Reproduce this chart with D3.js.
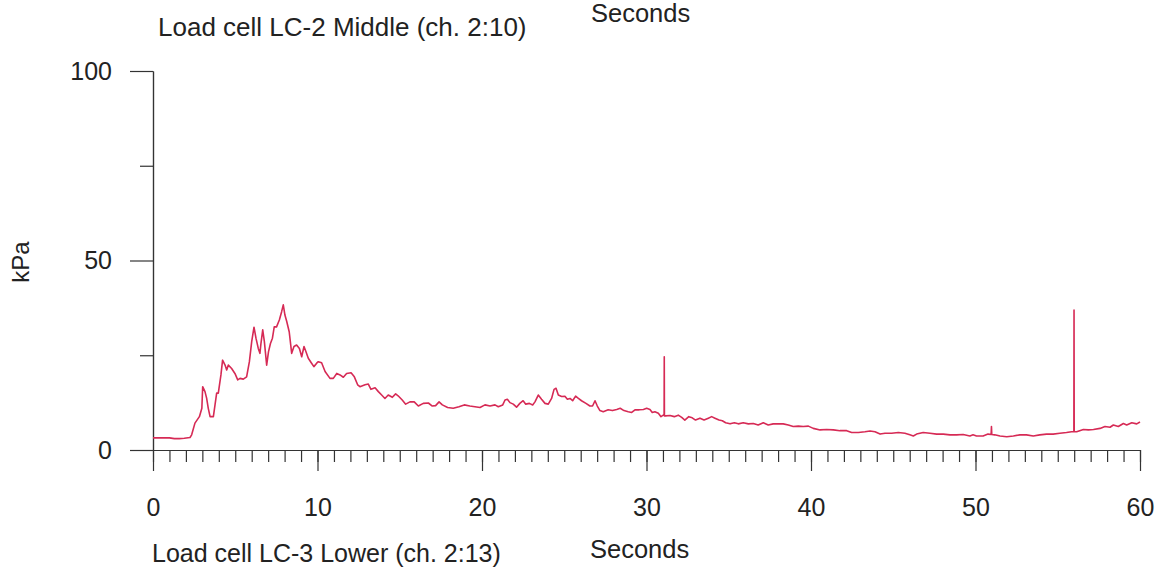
<!DOCTYPE html>
<html>
<head>
<meta charset="utf-8">
<script src="https://cdn.jsdelivr.net/npm/d3@7"></script>
<style>
  body { margin: 0; background: #fff; }
  svg text { font-family: "Liberation Sans", Arial, sans-serif; fill: #222; }
</style>
</head>
<body>
<svg id="chart" width="1165" height="572"></svg>
<script>
"use strict";

// time (s) and pressure (kPa)
const seconds = [
  0, 0.5, 1.0, 1.3, 1.6, 1.9, 2.25, 2.35, 2.55, 2.82, 2.97, 3.02, 3.16, 3.26, 3.36, 3.47, 3.67, 3.77, 3.87, 3.97,
  4.13, 4.23, 4.38, 4.48, 4.58, 4.78, 4.98, 5.15, 5.29, 5.49, 5.69, 5.86, 6.0, 6.14, 6.26, 6.4, 6.5, 6.56, 6.67, 6.77,
  6.91, 7.02, 7.14, 7.26, 7.37, 7.51, 7.68, 7.82, 7.92, 8.02, 8.13, 8.28, 8.43, 8.57, 8.73, 8.9, 9.04, 9.18, 9.3, 9.44,
  9.64, 9.78, 9.95, 10.05, 10.25, 10.46, 10.76, 10.96, 11.17, 11.37, 11.57, 11.77, 12.04, 12.24, 12.44, 12.58, 12.89, 13.09, 13.25, 13.5,
  13.7, 13.9, 14.1, 14.3, 14.55, 14.75, 14.9, 15.15, 15.36, 15.62, 15.88, 16.13, 16.43, 16.74, 16.98, 17.18, 17.39, 17.59, 17.91, 18.25,
  18.6, 18.92, 19.26, 19.57, 19.88, 20.18, 20.49, 20.79, 20.99, 21.26, 21.4, 21.54, 21.7, 21.9, 22.1, 22.3, 22.5, 22.66, 22.88, 23.08,
  23.22, 23.42, 23.62, 23.83, 24.03, 24.23, 24.38, 24.5, 24.64, 24.84, 25.04, 25.19, 25.35, 25.51, 25.69, 25.86, 26.05, 26.32, 26.56, 26.72,
  26.87, 27.01, 27.17, 27.37, 27.67, 27.93, 28.19, 28.4, 28.63, 28.89, 29.1, 29.3, 29.56, 29.81, 30.01, 30.21, 30.35, 30.51, 30.72, 30.88,
  31.02, 31.07, 31.08, 31.09, 31.16, 31.43, 31.69, 31.93, 32.14, 32.33, 32.57, 32.78, 32.98, 33.25, 33.5, 33.76, 33.96, 34.16, 34.41, 34.61,
  34.81, 35.08, 35.34, 35.58, 35.88, 36.19, 36.49, 36.79, 37.1, 37.4, 37.7, 38.01, 38.31, 38.62, 38.92, 39.23, 39.53, 39.84, 40.14, 40.55,
  40.95, 41.36, 41.76, 42.17, 42.47, 42.88, 43.28, 43.59, 43.89, 44.2, 44.5, 44.9, 45.31, 45.71, 46.01, 46.22, 46.42, 46.82, 47.23, 47.64,
  48.04, 48.45, 48.85, 49.25, 49.66, 49.85, 50.06, 50.46, 50.76, 50.95, 50.97, 50.99, 51.17, 51.49, 51.9, 52.3, 52.7, 53.1, 53.51, 53.91,
  54.32, 54.72, 55.13, 55.53, 55.84, 55.98, 55.99, 56.0, 56.15, 56.56, 56.86, 57.17, 57.57, 57.87, 58.18, 58.38, 58.68, 58.99, 59.19, 59.5,
  59.8, 60.0
];
const kPa = [
  3.2, 3.2, 3.2, 3.0, 3.0, 3.1, 3.3, 4.0, 7.1, 8.8, 11.0, 16.7, 15.4, 13.7, 11.0, 8.8, 8.8, 11.9, 15.0, 15.0,
  19.8, 23.7, 22.4, 21.1, 22.4, 21.5, 20.2, 18.5, 18.9, 18.7, 19.3, 23.3, 28.6, 32.4, 29.5, 26.8, 25.5, 28.0, 31.7, 28.6,
  22.4, 25.9, 28.1, 29.5, 32.5, 32.5, 34.3, 36.5, 38.3, 35.6, 33.9, 31.2, 25.5, 27.3, 27.7, 26.8, 24.6, 27.3, 25.9, 24.2,
  22.9, 22.0, 22.9, 23.3, 23.0, 20.7, 18.9, 18.9, 20.2, 19.8, 19.2, 20.2, 20.4, 19.3, 17.2, 16.7, 17.2, 17.4, 16.0, 16.4,
  15.4, 14.5, 13.6, 14.5, 13.9, 14.8, 14.3, 13.2, 12.1, 12.7, 12.7, 11.6, 12.3, 12.4, 11.6, 11.7, 12.7, 11.9, 11.2, 11.0,
  11.4, 11.9, 11.6, 11.4, 11.2, 11.9, 11.6, 11.9, 11.4, 11.9, 13.2, 13.4, 12.5, 12.1, 11.3, 12.3, 13.0, 12.1, 12.3, 11.9,
  12.7, 14.5, 13.4, 12.3, 12.1, 13.6, 16.0, 16.3, 14.5, 14.1, 14.2, 13.4, 13.6, 13.0, 14.2, 13.6, 13.0, 12.3, 11.6, 11.6,
  13.0, 11.6, 10.4, 10.1, 10.6, 10.4, 10.7, 11.0, 10.4, 10.1, 9.9, 10.6, 10.6, 10.7, 11.0, 10.7, 9.9, 10.1, 9.7, 8.8,
  9.2, 9.1, 24.6, 9.0, 9.0, 9.1, 8.8, 9.2, 8.6, 7.9, 8.8, 8.5, 7.9, 8.4, 7.9, 8.4, 8.8, 8.4, 7.9, 7.7,
  7.2, 6.9, 7.2, 6.9, 7.2, 6.9, 7.0, 6.6, 7.2, 6.6, 6.9, 6.9, 6.9, 6.6, 6.2, 6.3, 6.2, 6.3, 5.7, 5.3,
  5.4, 5.3, 5.1, 5.1, 4.6, 4.6, 4.8, 5.0, 4.8, 4.2, 4.4, 4.4, 4.6, 4.4, 4.0, 3.7, 4.2, 4.6, 4.4, 4.2,
  4.2, 4.0, 4.0, 4.1, 3.7, 4.0, 3.7, 3.7, 4.2, 4.1, 6.2, 4.1, 4.0, 3.7, 3.5, 3.7, 4.0, 4.0, 3.7, 4.0,
  4.2, 4.2, 4.4, 4.6, 4.8, 4.8, 36.9, 4.8, 4.8, 5.4, 5.3, 5.4, 5.7, 6.2, 6.0, 6.6, 6.2, 7.0, 6.6, 7.2,
  6.9, 7.4
];

const xMajorTicks = [0, 10, 20, 30, 40, 50, 60];
const xMinorTicks = d3.range(0, 61, 1);
const yMajorTicks = [0, 50, 100];
const yMinorTicks = [25, 75];

const topTitle = "Load cell LC-2 Middle (ch. 2:10)";
const bottomTitle = "Load cell LC-3 Lower (ch. 2:13)";
const xTitle = "Seconds";
const yTitle = "kPa";

const svg = d3.select("#chart");
svg.append("rect").attr("width", 1165).attr("height", 572).attr("fill", "#fff");

const x = d3.scaleLinear().domain([0, 60]).range([153, 1140]);
const y = d3.scaleLinear().domain([0, 100]).range([450, 71]);

const axisColor = "#333";

// x axis: minor ticks every second, longer ones every 10 s
svg.append("g")
  .attr("transform", `translate(0,${y(0)})`)
  .call(d3.axisBottom(x).tickValues(xMinorTicks).tickSize(12).tickSizeOuter(0).tickFormat(""));
svg.append("g")
  .attr("transform", `translate(0,${y(0)})`)
  .call(d3.axisBottom(x).tickValues(xMajorTicks).tickSize(21).tickSizeOuter(0).tickPadding(27).tickFormat(d3.format("d")));

// y axis
svg.append("g")
  .attr("transform", `translate(${x(0)},0)`)
  .call(d3.axisLeft(y).tickValues(yMinorTicks).tickSize(13).tickSizeOuter(0).tickFormat(""));
svg.append("g")
  .attr("transform", `translate(${x(0)},0)`)
  .call(d3.axisLeft(y).tickValues(yMajorTicks).tickSize(23).tickSizeOuter(0).tickPadding(18).tickFormat(d3.format("d")));

svg.selectAll(".domain, .tick line").attr("stroke", axisColor).attr("stroke-width", 1.2);
svg.selectAll(".tick text").attr("fill", "#222").style("font-size", "25px")
  .style("font-family", "'Liberation Sans', Arial, sans-serif");

// the trace
const points = seconds.map((s, i) => [s, kPa[i]]);
svg.append("path")
  .datum(points)
  .attr("fill", "none")
  .attr("stroke", "#d62a55")
  .attr("stroke-width", 1.6)
  .attr("stroke-linejoin", "round")
  .attr("d", d3.line().x(d => x(d[0])).y(d => y(d[1])));

// labels
svg.append("text").attr("x", 158).attr("y", 36).style("font-size", "26px").text(topTitle);
svg.append("text").attr("x", 591).attr("y", 22).style("font-size", "25.5px").text(xTitle);
svg.append("text").attr("x", 152).attr("y", 562).style("font-size", "25px").text(bottomTitle);
svg.append("text").attr("x", 590).attr("y", 558).style("font-size", "25.5px").text(xTitle);
svg.append("text")
  .attr("transform", `translate(29,262) rotate(-90)`)
  .attr("text-anchor", "middle")
  .style("font-size", "24px")
  .text(yTitle);
</script>
</body>
</html>
